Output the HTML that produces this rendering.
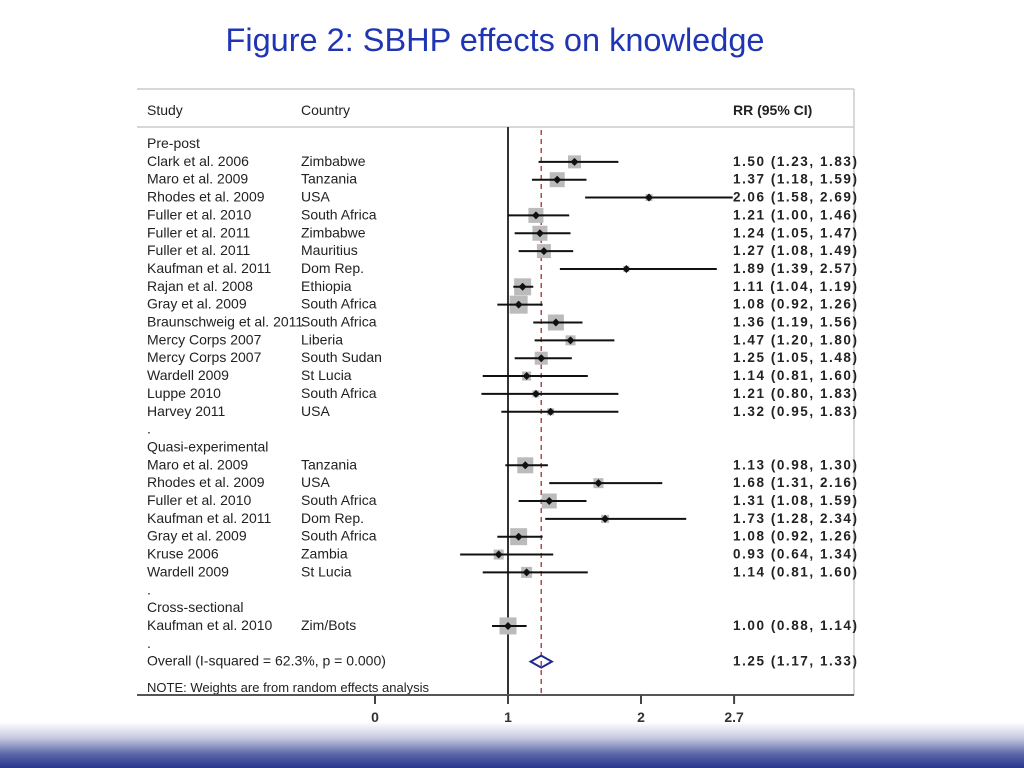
<!DOCTYPE html>
<html><head><meta charset="utf-8"><style>
body{margin:0;width:1024px;height:768px;background:#fff;position:relative;overflow:hidden;font-family:"Liberation Sans",sans-serif}
#title{position:absolute;left:0;width:990px;top:22px;text-align:center;font-size:32.5px;color:#1f35b4}
#band{position:absolute;left:0;top:722px;width:1024px;height:46px;background:linear-gradient(#fff,#c6c9e0 35%,#5a66a8 70%,#27358c)}
svg{position:absolute;left:0;top:0}
</style></head><body>
<div id="title">Figure 2: SBHP effects on knowledge</div>
<div id="band"></div>
<svg id="c" width="1024" height="768" font-family="Liberation Sans, sans-serif" font-size="14" fill="#222"></svg>
<script>
const rowLabels=["Pre-post","Clark et al. 2006","Maro et al. 2009","Rhodes et al. 2009","Fuller et al. 2010","Fuller et al. 2011","Fuller et al. 2011","Kaufman et al. 2011","Rajan et al. 2008","Gray et al. 2009","Braunschweig et al. 2011","Mercy Corps 2007","Mercy Corps 2007","Wardell 2009","Luppe 2010","Harvey 2011",".","Quasi-experimental","Maro et al. 2009","Rhodes et al. 2009","Fuller et al. 2010","Kaufman et al. 2011","Gray et al. 2009","Kruse 2006","Wardell 2009",".","Cross-sectional","Kaufman et al. 2010","."];
const countries=["","Zimbabwe","Tanzania","USA","South Africa","Zimbabwe","Mauritius","Dom Rep.","Ethiopia","South Africa","South Africa","Liberia","South Sudan","St Lucia","South Africa","USA","","","Tanzania","USA","South Africa","Dom Rep.","South Africa","Zambia","St Lucia","","","Zim/Bots",""];
const rr=[null,1.50,1.37,2.06,1.21,1.24,1.27,1.89,1.11,1.08,1.36,1.47,1.25,1.14,1.21,1.32,null,null,1.13,1.68,1.31,1.73,1.08,0.93,1.14,null,null,1.00,null];
const lo=[null,1.23,1.18,1.58,1.00,1.05,1.08,1.39,1.04,0.92,1.19,1.20,1.05,0.81,0.80,0.95,null,null,0.98,1.31,1.08,1.28,0.92,0.64,0.81,null,null,0.88,null];
const hi=[null,1.83,1.59,2.69,1.46,1.47,1.49,2.57,1.19,1.26,1.56,1.80,1.48,1.60,1.83,1.83,null,null,1.30,2.16,1.59,2.34,1.26,1.34,1.60,null,null,1.14,null];
const weights=[0,13,15,7,15,15,14,6,17,18,16,10,13,9,7,7,0,0,16,10,15,8,17,10,11,0,0,17,0];
const overall=[1.25,1.17,1.33];
const ticks=[0,1,2,2.7];
const NS="http://www.w3.org/2000/svg",svg=document.getElementById('c');
const X=v=>375+v*133, Y=i=>148+i*17.85;
function mk(t,a,p){const e=document.createElementNS(NS,t);for(const k in a)e.setAttribute(k,a[k]);(p||svg).appendChild(e);return e;}
let e;
e=mk('line',{x1:137,y1:89,x2:854,y2:89,stroke:'#ccc','stroke-width':1.5});
e=mk('line',{x1:137,y1:127,x2:854,y2:127,stroke:'#ccc','stroke-width':1.5});
e=mk('line',{x1:854,y1:89,x2:854,y2:695,stroke:'#ccc','stroke-width':1.5});
[["Study",147,''],["Country",301,''],["RR (95% CI)",733,'bold']].forEach(([t,x,w])=>{e=mk('text',{x:x,y:115,'font-weight':w||'normal'});e.textContent=t;});
e=mk('line',{x1:X(1),y1:127,x2:X(1),y2:695,stroke:'#333','stroke-width':2});
e=mk('line',{x1:X(overall[0]),y1:130,x2:X(overall[0]),y2:695,stroke:'#b5474f','stroke-width':1.5,'stroke-dasharray':'5,4'});
rowLabels.forEach((l,i)=>{
 const y=Y(i);
 e=mk('text',{x:147,y:y});e.textContent=l;
 if(countries[i]){e=mk('text',{x:301,y:y});e.textContent=countries[i];}
 if(rr[i]!=null){
  const cy=y-4,w=weights[i];
  e=mk('rect',{x:X(rr[i])-w/2,y:cy-w/2,width:w,height:w,fill:'#bbb'});
  e=mk('line',{x1:X(lo[i]),y1:cy,x2:X(hi[i]),y2:cy,stroke:'#111','stroke-width':2});
  e=mk('path',{d:`M${X(rr[i])-4},${cy}L${X(rr[i])},${cy-4}L${X(rr[i])+4},${cy}L${X(rr[i])},${cy+4}Z`,fill:'#111'});
  e=mk('text',{x:733,y:y,'font-weight':'bold','font-size':13.5,textLength:124,lengthAdjust:'spacing'});e.textContent=`${rr[i].toFixed(2)} (${lo[i].toFixed(2)}, ${hi[i].toFixed(2)})`;
 }
});
const oy=Y(29);
e=mk('text',{x:147,y:oy});e.textContent="Overall  (I-squared = 62.3%, p = 0.000)";
e=mk('path',{d:`M${X(overall[1])},${oy-4}L${X(overall[0])},${oy-10}L${X(overall[2])},${oy-4}L${X(overall[0])},${oy+2}Z`,fill:'none',stroke:'#1f2a8a','stroke-width':2});
e=mk('text',{x:733,y:oy,'font-weight':'bold','font-size':13.5,textLength:124,lengthAdjust:'spacing'});e.textContent=`${overall[0].toFixed(2)} (${overall[1].toFixed(2)}, ${overall[2].toFixed(2)})`;
e=mk('text',{x:147,y:692,'font-size':13});e.textContent="NOTE: Weights are from random effects analysis";
e=mk('line',{x1:137,y1:695,x2:854,y2:695,stroke:'#555','stroke-width':2});
ticks.forEach(t=>{
 e=mk('line',{x1:X(t),y1:695,x2:X(t),y2:704,stroke:'#444','stroke-width':2});
 e=mk('text',{x:X(t),y:722,'text-anchor':'middle','font-size':14,'font-weight':'bold',fill:'#333'});e.textContent=String(t);
});
</script>
</body></html>
